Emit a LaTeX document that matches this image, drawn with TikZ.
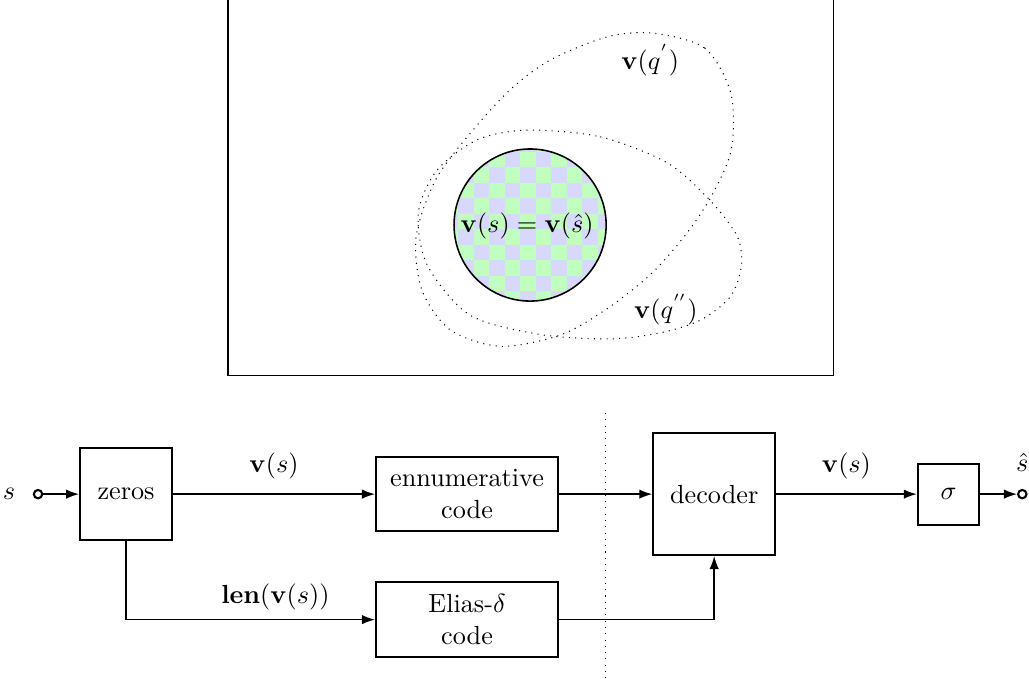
\documentclass[tikz,border=0pt]{standalone}
\usepackage{amsmath}
\usetikzlibrary{positioning,arrows.meta}
\definecolor{chkblue}{RGB}{216,216,252}
\definecolor{chkgreen}{RGB}{192,255,192}

\begin{document}
\begin{tikzpicture}[
    blk/.style={draw,thick,align=center,inner sep=2pt},
    conn/.style={semithick,-{Latex[length=5pt,width=3.6pt]}},
    port/.style={circle,draw,thick,fill=white,inner sep=0pt,minimum size=3.2pt},
    cloud/.style={dotted,thin}
  ]
      \useasboundingbox (0,0) rectangle (13.80,9.095);
      \draw[thin] (3.058,9.3)--(3.058,4.064)--(11.174,4.064)--(11.174,9.3);
      % checkerboard disc
      \coordinate (cc) at (7.109,6.077);
      \begin{scope}
        \clip (cc) circle (1.02);
        \fill[chkblue] (cc) circle (1.02);
        \foreach \i in {-6,...,5}{
          \foreach \j in {-6,...,5}{
            \pgfmathtruncatemacro{\chk}{mod(\i+\j+20,2)}
            \ifnum\chk=0
              \fill[chkgreen] ({6.975+0.208*\i},{6.023+0.208*\j}) rectangle ++(0.208,0.208);
            \fi
          }
        }
      \end{scope}
      \draw[semithick] (cc) circle (1.02);
      \node (vs) at (7.07,6.07) {$\mathbf{v}(s)=\mathbf{v}(\hat{s})$};
      \draw[cloud] plot[smooth cycle] coordinates {(8.76,8.65) (9.45,8.45) (9.80,7.85) (9.81,7.10) (9.55,6.48) (9.19,5.94) (8.72,5.41) (8.12,4.94) (7.51,4.60) (6.71,4.45) (6.04,4.67) (5.66,5.20) (5.58,5.92) (5.84,6.68) (6.30,7.30) (6.84,7.89) (7.38,8.29) (8.14,8.60)};
      \draw[cloud] plot[smooth cycle] coordinates {(7.07,7.35) (8.05,7.26) (8.95,6.91) (9.52,6.41) (9.89,5.92) (9.94,5.51) (9.79,5.11) (9.39,4.80) (8.85,4.63) (8.18,4.55) (7.24,4.61) (6.30,4.87) (5.73,5.54) (5.61,6.24) (5.86,6.81) (6.40,7.22)};
      \node (vq1) at (8.72,8.29) {$\mathbf{v}(q^{'})$};
      \node (vq2) at (8.93,4.94) {$\mathbf{v}(q^{''})$};

      \node[blk,minimum size=1.23cm] (zeros) at (1.69,2.468) {zeros};
      \node[blk,minimum width=2.44cm,minimum height=1.0cm] (enum) at (6.264,2.468) {ennumerative\\code};
      \node[blk,minimum width=2.44cm,minimum height=1.0cm] (elias) at (6.264,0.785) {Elias-$\delta$\\code};
      \node[blk,minimum size=1.63cm] (dec) at (9.578,2.468) {decoder};
      \node[blk,minimum size=0.82cm] (sig) at (12.72,2.468) {$\sigma$};
      \node[port] (in) at (0.51,2.468) {};
      \node[port] (out) at (13.71,2.468) {};
      \node[left=3.2pt of in] (s) {$s$};
      \node[above=3pt of out] (shat) {$\hat{s}$};

      \draw[conn] (in) -- (zeros);
      \draw[conn] (zeros) -- node[above=2pt] {$\mathbf{v}(s)$} (enum);
      \draw[conn] (enum) -- (dec);
      \draw[conn] (dec) -- node[above=2pt] {$\mathbf{v}(s)$} (sig);
      \draw[conn] (sig) -- (out);
      \draw[conn] (zeros) |- node[pos=0.8,above] {$\mathbf{len}(\mathbf{v}(s))$} (elias);
      \draw[conn] (elias) -| (dec);
      \draw[dotted] (8.115,3.555) -- (8.115,-0.1);
    \end{tikzpicture}
\end{document}
